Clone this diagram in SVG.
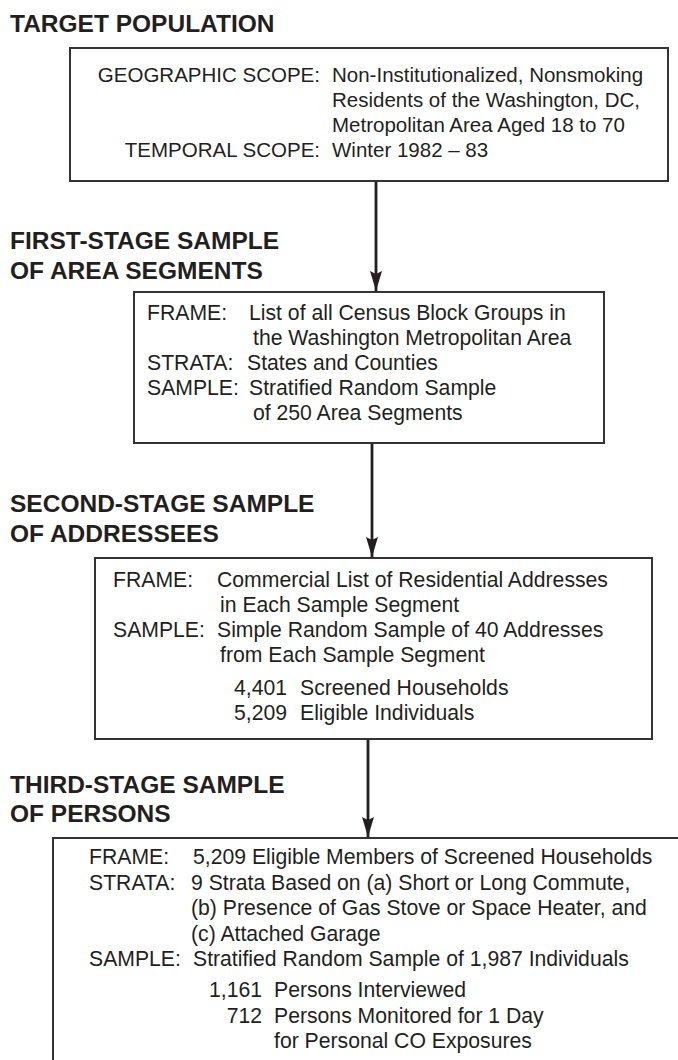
<svg xmlns="http://www.w3.org/2000/svg" width="678" height="1060" viewBox="0 0 678 1060">
<style>
.hdr{font-family:"Liberation Sans",Arial,sans-serif;font-weight:bold;font-size:24.5px;fill:#231f20}
.t{font-family:"Liberation Sans",Arial,sans-serif;font-size:20.5px;fill:#231f20}
.t2{font-family:"Liberation Sans",Arial,sans-serif;font-size:21.2px;fill:#231f20}
.box{fill:#ffffff;stroke:#333333;stroke-width:2}
.conn{stroke:#231f20;stroke-width:2.8;fill:none}
</style>
<defs>
<marker id="arr" markerUnits="userSpaceOnUse" markerWidth="20" markerHeight="12" viewBox="0 0 20 12" refX="20" refY="6" orient="auto">
<path d="M0,0 L20,6 L0,12 L3,6 z" fill="#231f20"/>
</marker>
</defs>
<rect width="678" height="1060" fill="#ffffff"/>

<g id="header-target"><text class="hdr" x="10" y="32">TARGET POPULATION</text></g>
<g id="header-first"><text class="hdr" x="10" y="249">FIRST-STAGE SAMPLE</text><text class="hdr" x="10" y="279">OF AREA SEGMENTS</text></g>
<g id="header-second"><text class="hdr" x="10" y="512">SECOND-STAGE SAMPLE</text><text class="hdr" x="10" y="542">OF ADDRESSEES</text></g>
<g id="header-third"><text class="hdr" x="10" y="793">THIRD-STAGE SAMPLE</text><text class="hdr" x="10" y="822">OF PERSONS</text></g>

<g id="connectors">
<line class="conn" x1="376" y1="181" x2="376" y2="291" marker-end="url(#arr)"/>
<line class="conn" x1="372" y1="443" x2="372" y2="557" marker-end="url(#arr)"/>
<line class="conn" x1="368" y1="739" x2="368" y2="837" marker-end="url(#arr)"/>
</g>

<g id="node-target">
<rect class="box" x="70" y="48" width="598" height="133"/>
<text class="t" x="320" y="82" text-anchor="end">GEOGRAPHIC SCOPE:</text>
<text class="t" x="332" y="82">Non-Institutionalized, Nonsmoking</text>
<text class="t" x="332" y="107">Residents of the Washington, DC,</text>
<text class="t" x="332" y="132">Metropolitan Area Aged 18 to 70</text>
<text class="t" x="320" y="157" text-anchor="end">TEMPORAL SCOPE:</text>
<text class="t" x="332" y="157">Winter 1982 – 83</text>
</g>

<g id="node-first">
<rect class="box" x="134" y="292" width="470" height="151"/>
<text class="t2" x="147" y="320">FRAME:</text>
<text class="t2" x="249" y="320">List of all Census Block Groups in</text>
<text class="t2" x="253" y="345">the Washington Metropolitan Area</text>
<text class="t2" x="147" y="370">STRATA:</text>
<text class="t2" x="247" y="370">States and Counties</text>
<text class="t2" x="147" y="395">SAMPLE:</text>
<text class="t2" x="249" y="395">Stratified Random Sample</text>
<text class="t2" x="253" y="420">of 250 Area Segments</text>
</g>

<g id="node-second">
<rect class="box" x="95" y="558" width="557" height="181"/>
<text class="t2" x="113" y="587">FRAME:</text>
<text class="t2" x="217" y="587">Commercial List of Residential Addresses</text>
<text class="t2" x="220" y="612">in Each Sample Segment</text>
<text class="t2" x="113" y="637">SAMPLE:</text>
<text class="t2" x="217" y="637">Simple Random Sample of 40 Addresses</text>
<text class="t2" x="220" y="662">from Each Sample Segment</text>
<text class="t2" x="287" y="695" text-anchor="end">4,401</text>
<text class="t2" x="300" y="695">Screened Households</text>
<text class="t2" x="287" y="720" text-anchor="end">5,209</text>
<text class="t2" x="300" y="720">Eligible Individuals</text>
</g>

<g id="node-third">
<rect class="box" x="53" y="838" width="640" height="240"/>
<text class="t2" x="89" y="864">FRAME:</text>
<text class="t2" x="193" y="864">5,209 Eligible Members of Screened Households</text>
<text class="t2" x="89" y="890">STRATA:</text>
<text class="t2" x="191" y="890">9 Strata Based on (a) Short or Long Commute,</text>
<text class="t2" x="191" y="915">(b) Presence of Gas Stove or Space Heater, and</text>
<text class="t2" x="191" y="941">(c) Attached Garage</text>
<text class="t2" x="89" y="966">SAMPLE:</text>
<text class="t2" x="193" y="966">Stratified Random Sample of 1,987 Individuals</text>
<text class="t2" x="262" y="997" text-anchor="end">1,161</text>
<text class="t2" x="274" y="997">Persons Interviewed</text>
<text class="t2" x="262" y="1023" text-anchor="end">712</text>
<text class="t2" x="274" y="1023">Persons Monitored for 1 Day</text>
<text class="t2" x="274" y="1048">for Personal CO Exposures</text>
</g>
</svg>
